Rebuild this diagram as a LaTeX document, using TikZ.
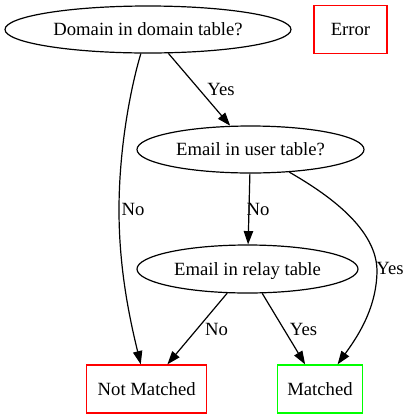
\documentclass[tikz,border=0pt]{standalone}
\usepackage{fontspec}
\setmainfont{Liberation Serif}
\usetikzlibrary{shapes.geometric,arrows.meta}
\definecolor{gvred}{RGB}{255,0,0}
\definecolor{gvgreen}{RGB}{0,255,0}
\begin{document}
\begin{tikzpicture}[x=0.75pt,y=-0.75pt,
  every node/.style={font=\fontsize{14pt}{16pt}\selectfont, text height=11pt, text depth=2pt, inner sep=0pt},
  decision/.style={draw, line width=0.9pt, ellipse},
  outbox/.style={draw, line width=0.9pt, rectangle, minimum height=36pt},
  edge/.style={draw, line width=0.9pt, -{Triangle[length=10pt,width=7pt]}},
  lbl/.style={}]
\useasboundingbox (0,0) rectangle (408,419);
\node[decision, minimum width=214.5pt, minimum height=35.25pt] (dom) at (148,29.5) {Domain in domain table?};
\node[outbox, draw=gvred, minimum width=54.75pt] (err) at (350.5,29.3) {Error};
\node[decision, minimum width=170.25pt, minimum height=35.25pt] (eu) at (250.5,149.5) {Email in user table?};
\node[decision, minimum width=165.75pt, minimum height=36pt] (er) at (247.5,269) {Email in relay table};
\node[outbox, draw=gvred, minimum width=90pt] (nm) at (146.7,389) {Not Matched};
\node[outbox, draw=gvgreen, minimum width=63.75pt] (m) at (320,389) {Matched};
% edges
\draw[edge] (dom) .. controls (130,90) and (119,150) .. (119,210) .. controls (119,270) and (130,320) .. (nm);
\draw[edge] (dom) -- (eu);
\draw[edge] (eu) -- (er);
\draw[edge] (eu) .. controls (320,190) and (376,225) .. (377,270) .. controls (377,310) and (355,340) .. (m);
\draw[edge] (er) -- (nm);
\draw[edge] (er) -- (m);
% labels
\node[lbl] (l1) at (133,209.5) {No};
\node[lbl] (l2) at (221,89) {Yes};
\node[lbl] (l3) at (258,209.5) {No};
\node[lbl] (l4) at (390,268) {Yes};
\node[lbl] (l5) at (216.5,329) {No};
\node[lbl] (l6) at (303.5,329) {Yes};
\end{tikzpicture}
\end{document}
